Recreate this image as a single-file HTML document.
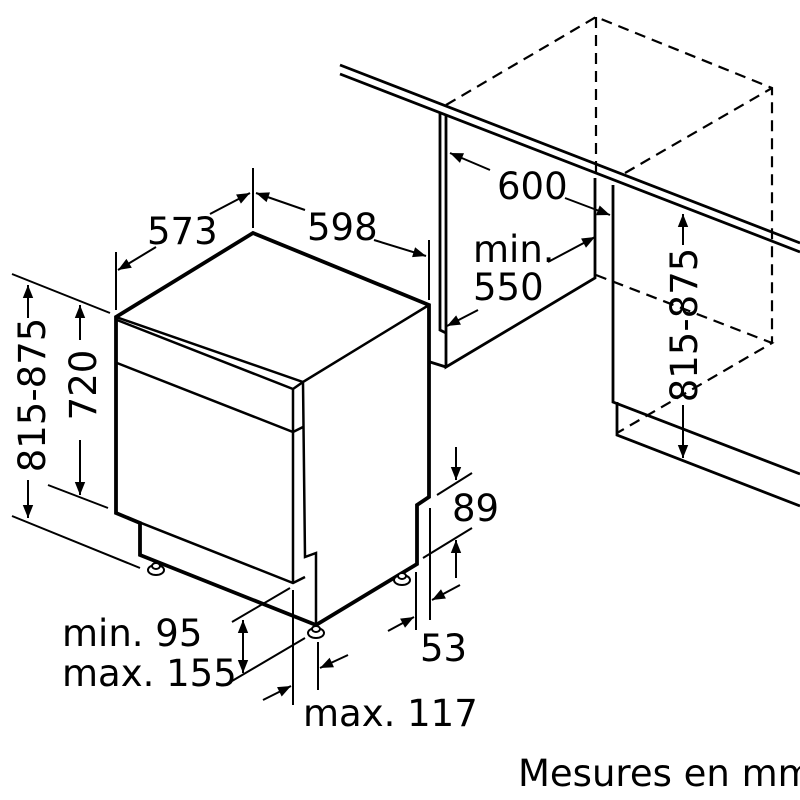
<!DOCTYPE html>
<html><head><meta charset="utf-8"><style>
html,body{margin:0;padding:0;background:#fff;width:800px;height:800px;overflow:hidden}
text{font-family:"DejaVu Sans","Liberation Sans",sans-serif;font-size:37px;fill:#000}
</style></head><body>
<svg width="800" height="800" viewBox="0 0 800 800" xmlns="http://www.w3.org/2000/svg">
<defs>
<marker id="a" viewBox="0 0 10 10" refX="10" refY="5" markerWidth="20" markerHeight="13" markerUnits="userSpaceOnUse" orient="auto-start-reverse"><path d="M0,1 L10,5 L0,9 z" fill="#000"/></marker>
</defs>
<g fill="none" stroke="#000">
<g stroke-width="2.2" stroke-dasharray="11,7">
<path d="M446,105 L596,17 L772,88 L772,343 M596,17 L596,178 M625,173 L772,88 M596,275 L772,343 L617,433"/>
</g>
<g stroke-width="2.8">
<path d="M340,65 L800,243 M340,74 L800,252"/>
<path d="M440,113 L440,330 L446,333 M446,115 L446,367 L595,278 L595,178 M430,362 L446,367"/>
<path d="M613,185 L613,402 L800,474 M617,402 L617,435 L800,506"/>
</g>
<g stroke-width="3.8" stroke-linejoin="miter">
<path d="M116,317 L253,233 L429,305 L429,497 L417,505 L417,564 L316,625 L140,555 L140,523 L116,513 Z"/>
</g>
<g stroke-width="2.5">
<path d="M116,317 L303,382 L429,305 M117,320 L293,389 L303,382 M117,363 L293,432 L303,427 M293,389 L293,583 M116,513 L293,583 L305,577 M303,382 L305,557 L316,553 L316,625"/>
</g>
<g stroke-width="2" fill="#fff">
<ellipse cx="156" cy="570" rx="8" ry="5"/><ellipse cx="156" cy="566" rx="4" ry="3"/>
<ellipse cx="316" cy="633" rx="8" ry="5"/><ellipse cx="316" cy="629" rx="4" ry="3"/>
<ellipse cx="402" cy="580" rx="8" ry="5"/><ellipse cx="402" cy="576" rx="4" ry="3"/>
</g>
<g stroke-width="2">
<path d="M116,252 L116,310 M253,168 L253,228 M429,240 L429,300"/>
<path d="M156,247 L118,270" marker-end="url(#a)"/>
<path d="M210,214 L250,193" marker-end="url(#a)"/>
<path d="M305,210 L256,193" marker-end="url(#a)"/>
<path d="M374,240 L426,256" marker-end="url(#a)"/>
<path d="M12,274 L110,313 M12,516 L140,568 M48,485 L108,508"/>
<path d="M28,318 L28,285" marker-end="url(#a)"/>
<path d="M28,480 L28,518" marker-end="url(#a)"/>
<path d="M80,340 L80,305" marker-end="url(#a)"/>
<path d="M80,440 L80,495" marker-end="url(#a)"/>
<path d="M490,170 L450,153" marker-end="url(#a)"/>
<path d="M565,198 L610,215" marker-end="url(#a)"/>
<path d="M478,310 L447,326" marker-end="url(#a)"/>
<path d="M548,262 L595,237" marker-end="url(#a)"/>
<path d="M683,245 L683,214" marker-end="url(#a)"/>
<path d="M683,405 L683,458" marker-end="url(#a)"/>
<path d="M437,495 L472,473 M423,558 L472,528"/>
<path d="M456,447 L456,480" marker-end="url(#a)"/>
<path d="M456,578 L456,540" marker-end="url(#a)"/>
<path d="M416,572 L416,630 M430,508 L430,620"/>
<path d="M388,631 L414,617" marker-end="url(#a)"/>
<path d="M460,585 L432,600" marker-end="url(#a)"/>
<path d="M232,622 L290,588 M232,681 L305,638"/>
<path d="M243,647 L243,620" marker-end="url(#a)"/>
<path d="M243,647 L243,673" marker-end="url(#a)"/>
<path d="M293,590 L293,705 M318,642 L318,690"/>
<path d="M263,700 L291,686" marker-end="url(#a)"/>
<path d="M348,655 L320,668" marker-end="url(#a)"/>
</g>
</g>
<text x="147" y="244">573</text>
<text x="307" y="240">598</text>
<text x="497" y="199">600</text>
<text x="473" y="262">min.</text>
<text x="473" y="300">550</text>
<text x="452" y="521">89</text>
<text x="420" y="661">53</text>
<text x="62" y="646">min. 95</text>
<text x="62" y="686">max. 155</text>
<text x="303" y="726">max. 117</text>
<text x="518" y="786" style="font-size:37px">Mesures en mm</text>
<text transform="translate(45,395) rotate(-90)" text-anchor="middle">815-875</text>
<text transform="translate(96,385) rotate(-90)" text-anchor="middle">720</text>
<text transform="translate(697,325) rotate(-90)" text-anchor="middle">815-875</text>
</svg>
</body></html>
